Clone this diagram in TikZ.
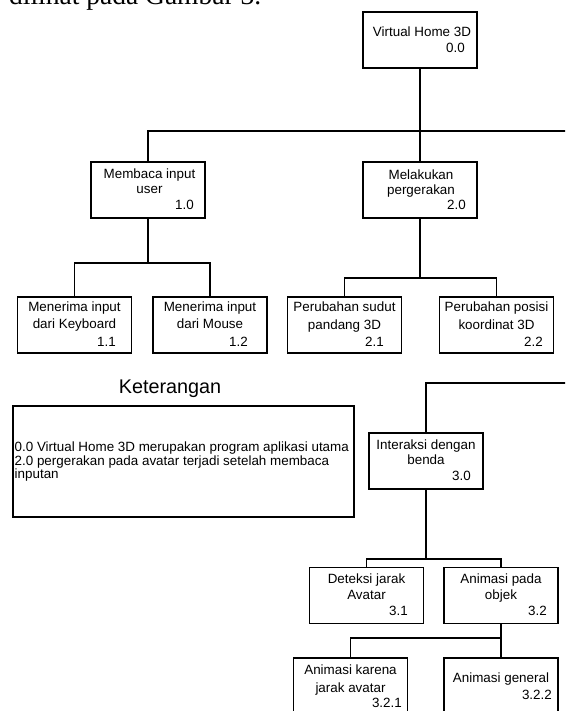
\documentclass[tikz,border=0pt]{standalone}
\usepackage{fontspec}
\setmainfont{Liberation Sans}
\newfontfamily\bodyserif{Liberation Serif}
\begin{document}
\begin{tikzpicture}[x=1pt,y=-1pt]
\tikzset{
  pbox/.style={draw=black, line width=1.3pt, inner sep=0pt, minimum width=114pt, minimum height=56pt},
  lbl/.style={inner sep=0pt, anchor=base, font=\fontsize{13.4}{15}\selectfont},
  num/.style={inner sep=0pt, anchor=base east, font=\fontsize{13.4}{15}\selectfont},
  legl/.style={inner sep=0pt, anchor=base west, font=\fontsize{13.4}{14}\selectfont},
  conn/.style={line width=1.3pt, draw=black},
}
\useasboundingbox (0,0) rectangle (565,711);
\clip (0,0) rectangle (565,711);

% cropped caption line of the surrounding document
\node[inner sep=0pt, anchor=base west, font=\bodyserif\fontsize{27.5}{30}\selectfont] (cap) at (9,5) {dilihat pada Gambar 3.};

% boxes
\node[pbox] (n00) at (420,40) {};
\node[pbox] (n10) at (148,190) {};
\node[pbox] (n20) at (420,190) {};
\node[pbox] (n11) at (74.5,325) {};
\node[pbox] (n12) at (210,325) {};
\node[pbox] (n21) at (344.5,325) {};
\node[pbox] (n22) at (496.5,325) {};
\node[pbox] (n30) at (426,461) {};
\node[pbox] (n31) at (366.5,595.5) {};
\node[pbox] (n32) at (501,595.5) {};
\node[pbox] (n321) at (350.5,686) {};
\node[pbox] (n322) at (501,686) {};
\node[draw=black, line width=1.3pt, inner sep=0pt, minimum width=341pt, minimum height=111pt] (leg) at (183.5,461.5) {};

% labels
\node[lbl] (n00a) at (422,37) {Virtual Home 3D};
\node[num] (n00n) at (465,53) {0.0};

\node[lbl] (n10a) at (149.5,178.5) {Membaca input};
\node[lbl] (n10b) at (149.5,194) {user};
\node[num] (n10n) at (194,209.5) {1.0};

\node[lbl] (n20a) at (421,179.5) {Melakukan};
\node[lbl] (n20b) at (421,194.5) {pergerakan};
\node[num] (n20n) at (466,209.5) {2.0};

\node[lbl] (n11a) at (74.5,311) {Menerima input};
\node[lbl] (n11b) at (74.5,328.5) {dari Keyboard};
\node[num] (n11n) at (116,346) {1.1};

\node[lbl] (n12a) at (210,311) {Menerima input};
\node[lbl] (n12b) at (210,328.5) {dari Mouse};
\node[num] (n12n) at (248,346) {1.2};

\node[lbl] (n21a) at (344.5,311.5) {Perubahan sudut};
\node[lbl] (n21b) at (344.5,329) {pandang 3D};
\node[num] (n21n) at (384,346) {2.1};

\node[lbl] (n22a) at (496.5,311.5) {Perubahan posisi};
\node[lbl] (n22b) at (496.5,329) {koordinat 3D};
\node[num] (n22n) at (543,346) {2.2};

\node[lbl] (n30a) at (426,449.5) {Interaksi dengan};
\node[lbl] (n30b) at (426,464.5) {benda};
\node[num] (n30n) at (471,480.5) {3.0};

\node[lbl] (n31a) at (366.5,583.5) {Deteksi jarak};
\node[lbl] (n31b) at (366.5,599.5) {Avatar};
\node[num] (n31n) at (408,615.5) {3.1};

\node[lbl] (n32a) at (501,583.5) {Animasi pada};
\node[lbl] (n32b) at (501,599.5) {objek};
\node[num] (n32n) at (547,615.5) {3.2};

\node[lbl] (n321a) at (350.5,674.5) {Animasi karena};
\node[lbl] (n321b) at (350.5,692) {jarak avatar};
\node[num] (n321n) at (402,707.5) {3.2.1};

\node[lbl] (n322a) at (501,682.5) {Animasi general};
\node[num] (n322n) at (552,699.5) {3.2.2};

% legend
\node[inner sep=0pt, anchor=base, font=\fontsize{19.8}{22}\selectfont] (ket) at (170,393) {Keterangan};
\node[legl] (leg1) at (14.5,451.5) {0.0 Virtual Home 3D merupakan program aplikasi utama};
\node[legl] (leg2) at (14.5,465) {2.0 pergerakan pada avatar terjadi setelah membaca};
\node[legl] (leg3) at (14.5,478.3) {inputan};

% connectors
\coordinate (eA) at (570,131);
\coordinate (eB) at (570,383);
\coordinate (b1) at (0,263);
\coordinate (b2) at (0,278);
\coordinate (b3) at (0,559);
\coordinate (b4) at (0,638);

\draw[conn] (n00.south) -- (n20.north);
\draw[conn] (n10.north) |- (eA);
\draw[conn] (n10.south) -- (n10.south |- b1);
\draw[conn] (n11.north) |- (n12.north |- b1) -- (n12.north);
\draw[conn] (n20.south) -- (n20.south |- b2);
\draw[conn] (n21.north) |- (n22.north |- b2) -- (n22.north);
\draw[conn] (eB) -| (n30.north);
\draw[conn] (n30.south) -- (n30.south |- b3);
\draw[conn] (n31.north) |- (n32.north |- b3) -- (n32.north);
\draw[conn] (n32.south) -- (n32.south |- b4);
\draw[conn] (n321.north) |- (n322.north |- b4) -- (n322.north);
\end{tikzpicture}
\end{document}
